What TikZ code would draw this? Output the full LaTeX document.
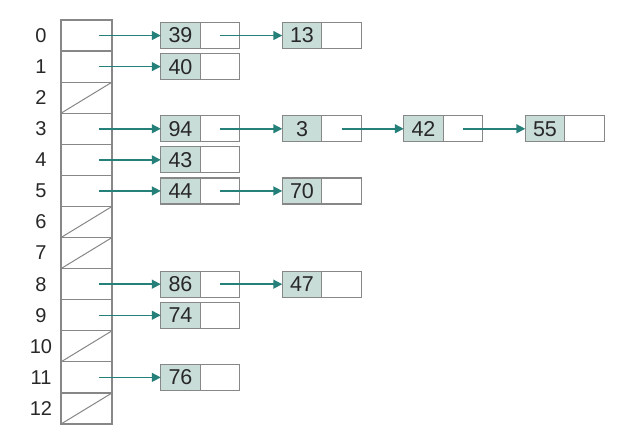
\documentclass[tikz,border=0pt]{standalone}
\usepackage{fontspec}
\setmainfont{Liberation Sans}
\usetikzlibrary{arrows.meta}
\definecolor{linkc}{RGB}{38,128,122}
\definecolor{keyfill}{RGB}{200,220,216}
\definecolor{boxline}{RGB}{135,135,135}
\definecolor{txt}{RGB}{40,40,40}
\tikzset{
  cell/.style={draw=boxline, line width=1.2pt, minimum width=51pt, minimum height=31.08pt, inner sep=0pt, outer sep=0pt},
  idx/.style={text=txt, font=\fontsize{20}{20}\selectfont, inner sep=0pt},
  keybox/.style={draw=boxline, line width=1.2pt, fill=keyfill, minimum width=39.5pt, minimum height=26pt, inner sep=0pt, outer sep=0pt, text=txt, font=\fontsize{21.5}{21.5}\selectfont},
  ptrbox/.style={draw=boxline, line width=1.2pt, fill=white, minimum width=39.5pt, minimum height=26pt, inner sep=0pt, outer sep=0pt},
  link/.style={draw=linkc, line width=1.5pt, -{Triangle[width=9pt,length=9pt]}},
  nilline/.style={draw=boxline, line width=1pt}
}
\begin{document}
\begin{tikzpicture}[x=1pt,y=-1pt]
\path[use as bounding box, fill=white] (0,0) rectangle (633,433);
% array
\foreach \i in {0,...,12} {
  \node[cell] (a\i) at (86.5, 35.54+31.08*\i) {};
  \node[idx] (l\i) at (41, 35.54+31.08*\i) {\i};
}
\foreach \i in {2,6,7,10,12} {
  \draw[nilline] (a\i.south west) -- (a\i.north east);
}
% list nodes: key at x, pointer right
\newcommand{\lnode}[4]{% name, column center x of key, row, text
  \node[keybox] (#1) at (#2, 35.54+31.08*#3) {#4};
  \node[ptrbox, anchor=west] (#1p) at (#1.east) {};
}
\lnode{k39}{180.5}{0}{39}
\lnode{k13}{302}{0}{13}
\lnode{k40}{180.5}{1}{40}
\lnode{k94}{180.5}{3}{94}
\lnode{k3}{302}{3}{3}
\lnode{k42}{423.5}{3}{42}
\lnode{k55}{545}{3}{55}
\lnode{k43}{180.5}{4}{43}
\lnode{k44}{180.5}{5}{44}
\lnode{k70}{302}{5}{70}
\lnode{k86}{180.5}{8}{86}
\lnode{k47}{302}{8}{47}
\lnode{k74}{180.5}{9}{74}
\lnode{k76}{180.5}{11}{76}
% links from array
\foreach \i/\k in {0/k39,1/k40,3/k94,4/k43,5/k44,8/k86,9/k74,11/k76} {
  \draw[link] ([xshift=12.5pt]a\i.center) -- (\k.west);
}
% links between nodes
\foreach \a/\b in {k39/k13,k94/k3,k3/k42,k42/k55,k44/k70,k86/k47} {
  \draw[link] (\a p.center) -- (\b.west);
}
\end{tikzpicture}
\end{document}
